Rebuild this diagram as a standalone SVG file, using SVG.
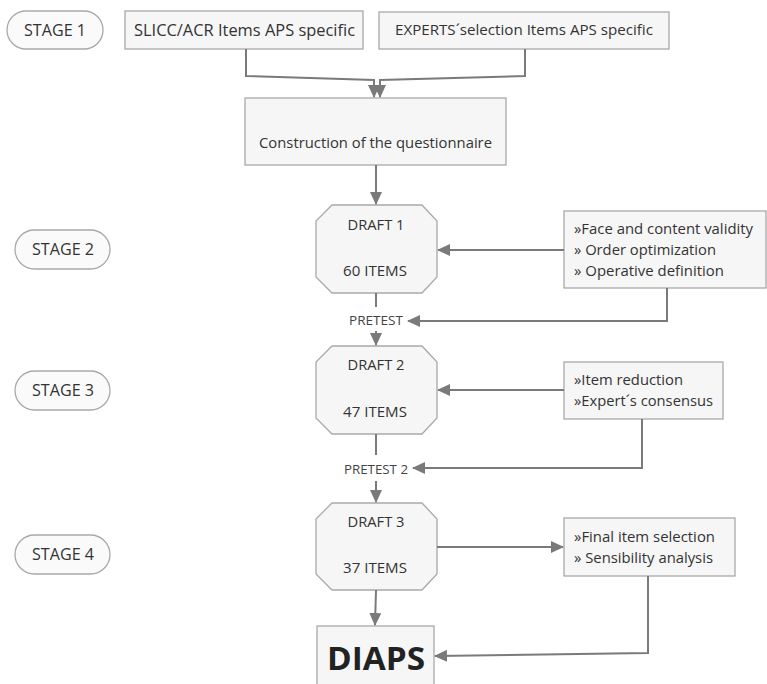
<svg xmlns="http://www.w3.org/2000/svg" width="767" height="684" viewBox="0 0 767 684">
<defs>
<marker id="ah" markerWidth="13" markerHeight="12" refX="12" refY="6" orient="auto" markerUnits="userSpaceOnUse">
<path d="M0,0 L13,6 L0,12 Z" fill="#7a7a7a"/>
</marker>
<style>
.box{fill:#f6f6f6;stroke:#a9a9a9;stroke-width:1.3}
.pill{fill:#fafafa;stroke:#a9a9a9;stroke-width:1.3}
.t{font-family:"Open Sans","Noto Sans",sans-serif;fill:#333333}
.c{fill:none;stroke:#7a7a7a;stroke-width:2}
</style>
</defs>
<rect width="767" height="684" fill="#ffffff"/>
<g id="stage1"><rect class="pill" x="7" y="11" width="96" height="38" rx="19"/><text class="t" x="55" y="36" font-size="17" text-anchor="middle" textLength="62" lengthAdjust="spacingAndGlyphs">STAGE 1</text></g>
<g id="stage2"><rect class="pill" x="15" y="230" width="95" height="39" rx="19.5"/><text class="t" x="63" y="255" font-size="17" text-anchor="middle" textLength="62" lengthAdjust="spacingAndGlyphs">STAGE 2</text></g>
<g id="stage3"><rect class="pill" x="15" y="371" width="95" height="39" rx="19.5"/><text class="t" x="63" y="396" font-size="17" text-anchor="middle" textLength="62" lengthAdjust="spacingAndGlyphs">STAGE 3</text></g>
<g id="stage4"><rect class="pill" x="15" y="535" width="95" height="39" rx="19.5"/><text class="t" x="63" y="560" font-size="17" text-anchor="middle" textLength="62" lengthAdjust="spacingAndGlyphs">STAGE 4</text></g>

<g id="slicc"><rect class="box" x="125" y="11" width="238" height="38"/><text class="t" x="134" y="36" font-size="17" textLength="221" lengthAdjust="spacingAndGlyphs">SLICC/ACR Items APS specific</text></g>
<g id="experts"><rect class="box" x="379" y="12" width="290" height="37"/><text class="t" x="395" y="35" font-size="15" textLength="258" lengthAdjust="spacingAndGlyphs">EXPERTS´selection Items  APS specific</text></g>
<g id="construction"><rect class="box" x="245" y="98" width="261" height="67"/><text class="t" x="259" y="148" font-size="15" textLength="233" lengthAdjust="spacingAndGlyphs">Construction of the questionnaire</text></g>

<g id="draft1"><path class="box" d="M332,205 H422 L437,221 V277 L422,293 H332 L316,277 V221 Z"/><text class="t" x="376" y="230" font-size="15" text-anchor="middle" textLength="57" lengthAdjust="spacingAndGlyphs">DRAFT 1</text><text class="t" x="375" y="276" font-size="15" text-anchor="middle" textLength="64" lengthAdjust="spacingAndGlyphs">60 ITEMS</text></g>
<g id="draft2"><path class="box" d="M332,346 H422 L437,362 V418 L422,434 H332 L316,418 V362 Z"/><text class="t" x="376" y="370" font-size="15" text-anchor="middle" textLength="57" lengthAdjust="spacingAndGlyphs">DRAFT 2</text><text class="t" x="375" y="417" font-size="15" text-anchor="middle" textLength="64" lengthAdjust="spacingAndGlyphs">47 ITEMS</text></g>
<g id="draft3"><path class="box" d="M332,503 H422 L437,519 V574 L422,590 H332 L316,574 V519 Z"/><text class="t" x="376" y="527" font-size="15" text-anchor="middle" textLength="57" lengthAdjust="spacingAndGlyphs">DRAFT 3</text><text class="t" x="375" y="573" font-size="15" text-anchor="middle" textLength="64" lengthAdjust="spacingAndGlyphs">37 ITEMS</text></g>

<g id="box1"><rect class="box" x="564" y="211" width="202" height="77"/>
<text class="t" x="574" y="234" font-size="15" textLength="179" lengthAdjust="spacingAndGlyphs">»Face and content validity</text>
<text class="t" x="574" y="255" font-size="15" textLength="142" lengthAdjust="spacingAndGlyphs">» Order optimization</text>
<text class="t" x="574" y="276" font-size="15" textLength="150" lengthAdjust="spacingAndGlyphs">» Operative definition</text></g>
<g id="box2"><rect class="box" x="564" y="362" width="159" height="57"/>
<text class="t" x="574" y="385" font-size="15" textLength="109" lengthAdjust="spacingAndGlyphs">»Item reduction</text>
<text class="t" x="574" y="406" font-size="15" textLength="139" lengthAdjust="spacingAndGlyphs">»Expert´s consensus</text></g>
<g id="box3"><rect class="box" x="564" y="518" width="171" height="58"/>
<text class="t" x="574" y="542" font-size="15" textLength="141" lengthAdjust="spacingAndGlyphs">»Final item selection</text>
<text class="t" x="574" y="563" font-size="15" textLength="139" lengthAdjust="spacingAndGlyphs">» Sensibility analysis</text></g>

<g id="pretest1"><text class="t" x="349" y="325" font-size="13" textLength="54" lengthAdjust="spacingAndGlyphs" style="fill:#444">PRETEST</text></g>
<g id="pretest2"><text class="t" x="344" y="474" font-size="13" textLength="64" lengthAdjust="spacingAndGlyphs" style="fill:#444">PRETEST 2</text></g>

<g id="diaps"><rect class="box" x="317" y="626" width="117" height="64"/><text class="t" x="376" y="670" font-size="32" font-weight="bold" text-anchor="middle" textLength="98" lengthAdjust="spacingAndGlyphs" style="fill:#222">DIAPS</text></g>

<g id="connectors">
<path class="c" d="M246,49 V76 L374,80 V97" marker-end="url(#ah)"/>
<path class="c" d="M525,49 V76 L380,80 V97" marker-end="url(#ah)"/>
<path class="c" d="M376,165 V204" marker-end="url(#ah)"/>
<path class="c" d="M564,250 H438" marker-end="url(#ah)"/>
<path class="c" d="M667,288 V321 H408" marker-end="url(#ah)"/>
<path class="c" d="M376,293 V307"/>
<path class="c" d="M376,331 V345" marker-end="url(#ah)"/>
<path class="c" d="M564,390 H438" marker-end="url(#ah)"/>
<path class="c" d="M642,419 V468 H413" marker-end="url(#ah)"/>
<path class="c" d="M376,434 V455"/>
<path class="c" d="M376,481 V502" marker-end="url(#ah)"/>
<path class="c" d="M437,547 H563" marker-end="url(#ah)"/>
<path class="c" d="M648,576 V653 L435,656" marker-end="url(#ah)"/>
<path class="c" d="M376,590 L375,625" marker-end="url(#ah)"/>
</g>
</svg>
